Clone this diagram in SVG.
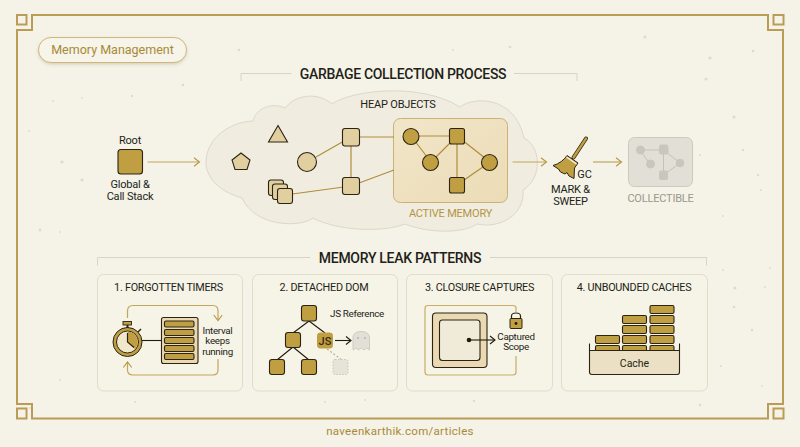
<svg xmlns="http://www.w3.org/2000/svg" width="800" height="447" viewBox="0 0 800 447">
<defs>
<marker id="oa" markerWidth="10" markerHeight="12" refX="7" refY="5" orient="auto" markerUnits="userSpaceOnUse" viewBox="0 0 10 10"><path d="M1.500 0.800 L7 5 L1.500 9.200" fill="none" stroke="#b8963f" stroke-width="1.100"/></marker>
<marker id="ka" markerWidth="10" markerHeight="10" refX="7" refY="5" orient="auto" markerUnits="userSpaceOnUse" viewBox="0 0 10 10"><path d="M2 1 L7 5 L2 9" fill="none" stroke="#221a0c" stroke-width="1.100"/></marker>
<linearGradient id="act" x1="0" y1="0" x2="1" y2="1"><stop offset="0" stop-color="#f1e6c9"/><stop offset="1" stop-color="#ecdcb6"/></linearGradient>
<filter id="sh" x="-10%" y="-20%" width="120%" height="150%"><feDropShadow dx="0" dy="1.500" stdDeviation="1.500" flood-color="#9a8655" flood-opacity="0.300"/></filter>
</defs>
<style>
text{font-family:Roboto,"Liberation Sans",sans-serif;fill:#221f18}
.frame{fill:none;stroke:#bb9c56;stroke-width:2}
.thin{fill:none;stroke:#d8d4c3;stroke-width:1}
.card{fill:#f6f3e7;stroke:#e0dccb;stroke-width:1}
.c{text-anchor:middle}
.lab{font-size:11px;letter-spacing:-.2px}
.h1{font-size:14px;font-weight:500;letter-spacing:-.3px}
.h2{font-size:10.800px;font-weight:400;letter-spacing:-.25px}
.sm{font-size:9.800px;letter-spacing:-.3px}
.m{font-size:11px;letter-spacing:-.2px}
.l{fill:none;stroke:#c3a65e;stroke-width:1.200}
.ln{fill:none;stroke:#b08c3c;stroke-width:1.200}
.k{fill:none;stroke:#221a0c;stroke-width:1.100}
.pale{fill:#e2cfa0;stroke:#2b2414;stroke-width:1.100}
.gold{fill:#c09f42;stroke:#2b2414;stroke-width:1.100}
.ghost{fill:#c9c6bc;stroke:#c9c6bc}
.gl{stroke:#c4c1b6;stroke-width:1;fill:none}
.dot{fill:#e0dbc8}
</style>
<rect width="800" height="447" fill="#f5f2e7"/>
<g id="specks" class="dot">
<circle cx="239" cy="50" r="1.300"/><circle cx="183" cy="85" r="1.300"/><circle cx="82" cy="98" r="1"/><circle cx="62" cy="162" r="1.500"/><circle cx="82" cy="180" r="1.500"/><circle cx="53" cy="101" r="1"/><circle cx="132" cy="96" r="1.200"/><circle cx="40" cy="230" r="1.400"/><circle cx="60" cy="232" r="1"/><circle cx="29" cy="131" r="1"/><circle cx="510" cy="47" r="1.300"/><circle cx="453" cy="50" r="1"/><circle cx="645" cy="37" r="1.500"/><circle cx="753" cy="51" r="1.300"/><circle cx="710" cy="58" r="1.500"/><circle cx="706" cy="79" r="1.500"/><circle cx="734" cy="117" r="1.500"/><circle cx="743" cy="150" r="1.200"/><circle cx="700" cy="155" r="1"/><circle cx="758" cy="175" r="1.200"/><circle cx="761" cy="190" r="1"/><circle cx="723" cy="216" r="1"/><circle cx="723" cy="270" r="1"/><circle cx="734" cy="307" r="1.300"/><circle cx="752" cy="330" r="1.200"/><circle cx="735" cy="288" r="1.500"/><circle cx="770" cy="268" r="1"/><circle cx="765" cy="287" r="1"/><circle cx="721" cy="366" r="1"/><circle cx="762" cy="386" r="1"/><circle cx="700" cy="405" r="1.200"/><circle cx="474" cy="401" r="1.200"/><circle cx="135" cy="402" r="1"/><circle cx="325" cy="402" r="1"/><circle cx="365" cy="400" r="1"/><circle cx="30" cy="408" r="1"/><circle cx="60" cy="380" r="1"/>
</g>
<g id="frame">
<path class="frame" d="M32 15 H768 V30 H783 V404 H768 V418.500 H32 V404 H17 V30 H32 Z"/>
<rect class="frame" x="17" y="15" width="9.500" height="9.500"/>
<rect class="frame" x="773.500" y="15" width="10" height="9.500"/>
<rect class="frame" x="773.500" y="408.500" width="10" height="10"/>
<rect class="frame" x="17" y="408.500" width="9.500" height="10"/>
</g>
<g id="title-chip">
<rect x="38.500" y="37.500" width="148" height="25" rx="12.500" fill="#f7f4ea" stroke="#cdb77c" stroke-width="1" filter="url(#sh)"/>
<text x="112.500" y="54" class="c" font-size="12.500" style="fill:#a88a38">Memory Management</text>
</g>
<g id="heading-gc">
<path class="thin" d="M241 81 V73.500 H291.500"/>
<path class="thin" d="M514 73.500 H577 V81"/>
<text x="403" y="78.500" class="c h1">GARBAGE COLLECTION PROCESS</text>
</g>
<g id="cloud">
<path d="M253 121 C256 108 272 102 285 108 C296 94 318 92 332 104 C352 90 420 82 460 107 C474 96 515 96 524 138 C541 146 543 178 523 190 C525 215 500 229 477 224 C460 235 425 232 405 224 C385 232 340 232 313 218 C300 228 255 227 242 198 C215 190 206 175 206 162 C206 140 228 122 253 121 Z" fill="#f0ede0" stroke="#dcd8c9" stroke-width="1"/>
<text x="398" y="108" class="c m">HEAP OBJECTS</text>
</g>
<g id="active-memory">
<rect x="393.500" y="118.500" width="114" height="84" rx="7" fill="url(#act)" stroke="#c9b274" stroke-width="1"/>
<text x="450.500" y="217" class="c m" style="fill:#b39545">ACTIVE MEMORY</text>
</g>
<g id="heap-links">
<path class="ln" d="M316 157 L351 137 M351 137 H394 M351 137 V186 M351 186 L394 170 M285 195 L351 186"/>
<path class="ln" d="M411 136 H457 M411 136 L431 162 M431 162 L457 136 M457 136 V185 M457 136 L490 162 M490 162 L457 185"/>
</g>
<g id="heap-nodes">
<path class="pale" d="M278 125.500 L287.500 142 H268.500 Z"/>
<path class="pale" d="M241 153 L250 160 L247 169.500 H235 L232 160 Z"/>
<circle class="pale" cx="307" cy="162" r="9.500"/>
<rect class="pale" x="342.500" y="128.500" width="17" height="17.500" rx="2.500"/>
<rect class="pale" x="342.500" y="177.500" width="17" height="17" rx="2.500"/>
<rect class="pale" x="268.500" y="180" width="15" height="15.500" rx="2.500"/>
<rect class="pale" x="272.500" y="184" width="15" height="15.500" rx="2.500"/>
<rect class="pale" x="277.500" y="188.500" width="15" height="15" rx="2.500"/>
</g>
<g id="active-nodes">
<circle class="gold" cx="411" cy="136.500" r="8"/>
<circle class="gold" cx="430.500" cy="162.500" r="8"/>
<circle class="gold" cx="489.500" cy="162.500" r="8"/>
<rect class="gold" x="449.500" y="128.500" width="15" height="15.500" rx="2"/>
<rect class="gold" x="449.500" y="177.500" width="15" height="15.500" rx="2"/>
</g>
<g id="root">
<text x="130" y="144" class="c lab">Root</text>
<rect x="118" y="149.500" width="24.500" height="24.500" rx="3" fill="#c09f42" stroke="#2b2414" stroke-width="1.100"/>
<text x="130" y="188" class="c lab">Global &amp;</text>
<text x="130" y="200" class="c lab">Call Stack</text>
</g>
<g id="connectors">
<path class="l" d="M147.500 162 H199.500" marker-end="url(#oa)"/>
<path class="l" d="M512.500 162 H546.500" marker-end="url(#oa)"/>
<path class="l" d="M593 162 H621.500" marker-end="url(#oa)"/>
</g>
<g id="broom">
<path d="M586 138.500 L573.500 157.500" stroke="#2b2414" stroke-width="4" stroke-linecap="round"/>
<path d="M586 138.500 L573.500 157.500" stroke="#c09f42" stroke-width="2.400" stroke-linecap="round"/>
<path d="M567 155.500 L578 163 L574.500 168 L574 178.500 L569 176 L567 172.500 L565 174 L560.500 172 L558.500 169 L553 165.500 C559 164 564 160 567 155.500 Z" fill="#c09f42" stroke="#2b2414" stroke-width="1"/>
<path d="M566.500 157 L576.500 164" stroke="#f5f2e7" stroke-width="1.500"/>
<text x="584.500" y="178" class="c m">GC</text>
<text x="570.500" y="192.500" class="c m">MARK &amp;</text>
<text x="570.500" y="204.500" class="c m">SWEEP</text>
</g>
<g id="collectible">
<rect x="628.500" y="137.500" width="64" height="49" rx="6" fill="#e2e0d6" stroke="#cdcabd" stroke-width="1"/>
<path class="gl" d="M640 150 L650 164 M640 150 H663.500 V175 M663.500 150 L680 163 L663.500 175"/>
<circle class="ghost" cx="640.500" cy="150" r="4"/><circle class="ghost" cx="650.500" cy="164" r="4"/><circle class="ghost" cx="680" cy="163" r="3.800"/>
<rect class="ghost" x="659.500" y="145" width="8.500" height="9" rx="1.500"/><rect class="ghost" x="659.500" y="171" width="8" height="8.500" rx="1.500"/>
<text x="660.500" y="202" class="c m" style="fill:#9a978c">COLLECTIBLE</text>
</g>
<g id="heading-leaks">
<path class="thin" d="M97.500 265.500 V257.500 H310"/>
<path class="thin" d="M490 257.500 H706.500 V265.500"/>
<text x="400" y="262.500" class="c h1">MEMORY LEAK PATTERNS</text>
</g>
<g id="card-timers">
<rect class="card" x="97.500" y="274.500" width="145" height="116.500" rx="6"/>
<text x="168.500" y="291" class="c h2">1. FORGOTTEN TIMERS</text>
<path class="l" d="M127.500 318 V311 Q127.500 305.500 133 305.500 H213 Q218 305.500 218 311 V320.500" marker-end="url(#oa)"/>
<path class="l" d="M218 359 V370 Q218 375 213 375 H133 Q127.500 375 127.500 370 V362" marker-end="url(#oa)"/>
<path class="k" d="M142 340.500 H162"/>
<rect x="161.500" y="317.500" width="36.500" height="46" rx="2" fill="#ead9b2" stroke="#2b2414" stroke-width="1.100"/>
<rect class="gold" x="164.500" y="321" width="29.500" height="6" rx="1.500"/>
<rect class="gold" x="164.500" y="329.500" width="29.500" height="6" rx="1.500"/>
<rect class="gold" x="164.500" y="337.500" width="29.500" height="6" rx="1.500"/>
<rect class="gold" x="164.500" y="345.500" width="29.500" height="6" rx="1.500"/>
<rect class="gold" x="164.500" y="353.500" width="29.500" height="6" rx="1.500"/>
<circle cx="127.500" cy="342" r="14.500" fill="#c09f42" stroke="#2b2414" stroke-width="1"/>
<circle cx="127.500" cy="342" r="11" fill="#f0e7cd" stroke="#2b2414" stroke-width="1"/>
<path d="M127.500 342 V331.500 A10.500 10.500 0 0 1 135 349 Z" fill="#c09f42"/>
<path d="M127.500 333 V342 L134 347.500" fill="none" stroke="#2b2414" stroke-width="1.200"/>
<rect x="123" y="321.500" width="8.500" height="3.500" fill="#c09f42" stroke="#2b2414" stroke-width=".9"/>
<path d="M127.500 325 V328" stroke="#2b2414" stroke-width="2"/>
<path d="M138 332 L141 329" stroke="#2b2414" stroke-width="1.500"/>
<text x="217.500" y="333.500" class="c sm">Interval</text>
<text x="217.500" y="344" class="c sm">keeps</text>
<text x="217.500" y="354.500" class="c sm">running</text>
</g>
<g id="card-dom">
<rect class="card" x="252.500" y="274.500" width="145" height="116.500" rx="6"/>
<text x="324" y="291" class="c h2">2. DETACHED DOM</text>
<path class="k" d="M309 321 L293 333 M309 321 L325 333 M293 347 L277 360 M293 347 L309 360"/>
<path d="M327 349 L342 360" fill="none" stroke="#b8ab80" stroke-width="1.100" stroke-dasharray="2 2"/>
<rect class="gold" x="301.500" y="305.500" width="15" height="15.500" rx="2.500"/>
<rect class="gold" x="285.500" y="332.500" width="15" height="15" rx="2.500"/>
<rect class="gold" x="269.500" y="359.500" width="15" height="15" rx="2.500"/>
<rect class="gold" x="301.500" y="359.500" width="15" height="15" rx="2.500"/>
<rect x="317.500" y="333" width="15" height="15" rx="2.500" fill="#c09f42" stroke="#c09f42"/>
<text x="325" y="345" class="c" font-size="11" font-weight="500" style="fill:#3b2a10">JS</text>
<rect x="333" y="359.500" width="15" height="15" rx="2" fill="#e6e3d8" stroke="#c9c6b8" stroke-dasharray="1.500 1.500"/>
<path class="k" d="M335 340.500 H351" marker-end="url(#ka)"/>
<path d="M353 350 V338 C353 333 357 331.500 361 331.500 C365 331.500 369.500 333 369.500 338 V350 L366.500 348 L364 350 L361 348 L358.500 350 L356 348 Z" fill="#e2e0d6" stroke="#cfccc1"/>
<circle cx="358" cy="338" r=".9" fill="#b5b2a6"/><circle cx="365" cy="338" r=".9" fill="#b5b2a6"/>
<text x="357" y="317" class="c sm">JS Reference</text>
</g>
<g id="card-closure">
<rect class="card" x="406.500" y="274.500" width="146" height="116.500" rx="6"/>
<text x="479.500" y="291" class="c h2">3. CLOSURE CAPTURES</text>
<path d="M516 356 V372 Q516 375 513 375 H428 Q425 375 425 372 V308 Q425 305.500 428 305.500 H513 Q516 305.500 516 308 V312" fill="none" stroke="#c9ad68" stroke-width="1.200"/>
<rect x="432.500" y="313" width="54.500" height="54.500" rx="3.500" fill="#ead9b2" stroke="#2b2414" stroke-width="1.100"/>
<rect x="439.500" y="320" width="40.500" height="40.500" rx="3" fill="#f0ebd9" stroke="#2b2414" stroke-width="1.100"/>
<circle cx="469" cy="340" r="2.300" fill="#221a0c"/>
<path class="k" d="M469 340 H495" marker-end="url(#ka)"/>
<path d="M511.500 319 V316 Q511.500 313 516 313 Q520.500 313 520.500 316 V319" fill="none" stroke="#2b2414" stroke-width="1.200"/>
<rect x="510" y="318.500" width="12" height="10" rx="1" fill="#c09f42" stroke="#2b2414"/>
<circle cx="516" cy="323.500" r="1.400" fill="#221a0c"/>
<text x="516" y="339.500" class="c sm">Captured</text>
<text x="516" y="350" class="c sm">Scope</text>
</g>
<g id="card-caches">
<rect class="card" x="561.500" y="274.500" width="146" height="116.500" rx="6"/>
<text x="634" y="291" class="c h2">4. UNBOUNDED CACHES</text>
<rect class="gold" x="595.500" y="335.500" width="24" height="8" rx="1.500"/>
<rect class="gold" x="622.500" y="315.500" width="24" height="8" rx="1.500"/><rect class="gold" x="622.500" y="325.500" width="24" height="8" rx="1.500"/><rect class="gold" x="622.500" y="335.500" width="24" height="8" rx="1.500"/>
<rect class="gold" x="650" y="305.500" width="24" height="8" rx="1.500"/><rect class="gold" x="650" y="315.500" width="24" height="8" rx="1.500"/><rect class="gold" x="650" y="325.500" width="24" height="8" rx="1.500"/><rect class="gold" x="650" y="335.500" width="24" height="8" rx="1.500"/>
<rect class="gold" x="595.500" y="345.500" width="24" height="6" rx="1.500"/><rect class="gold" x="622.500" y="345.500" width="24" height="6" rx="1.500"/><rect class="gold" x="650" y="345.500" width="24" height="6" rx="1.500"/>
<path d="M589.500 350.500 H679.500 V372 Q679.500 374.500 677 374.500 H592 Q589.500 374.500 589.500 372 Z" fill="#ebe0c3"/>
<path d="M589.500 343.500 V372 Q589.500 374.500 592 374.500 H677 Q679.500 374.500 679.500 372 V343.500 M589.500 350.500 H679.500" fill="none" stroke="#2b2414" stroke-width="1.100"/>
<text x="634.500" y="367" class="c" font-size="10.500">Cache</text>
</g>
<g id="footer">
<text x="400" y="435" class="c" font-size="11.500" letter-spacing=".3" style="fill:#a88a38">naveenkarthik.com/articles</text>
</g>
</svg>
